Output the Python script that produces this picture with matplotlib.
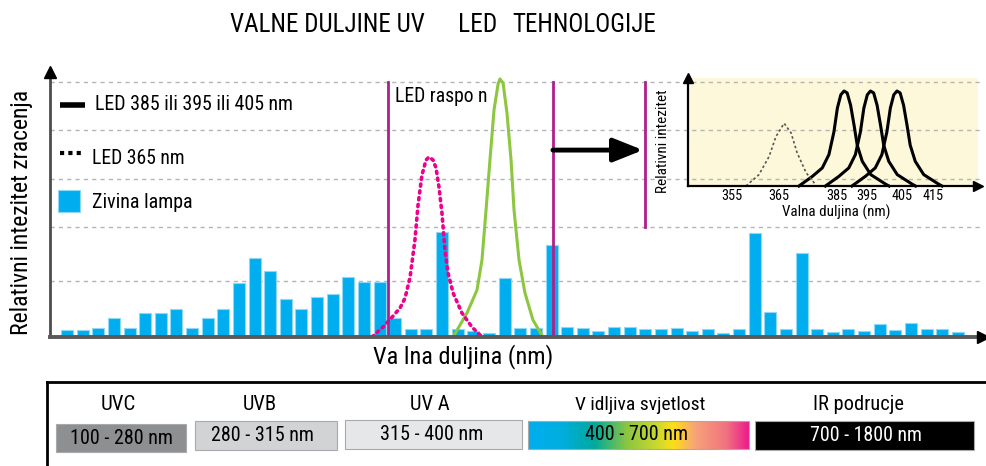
import matplotlib
matplotlib.use('Agg')
import matplotlib.pyplot as plt
import numpy as np
from matplotlib.colors import LinearSegmentedColormap
from matplotlib.patches import Rectangle
from matplotlib import font_manager as fm

# ---------------- font choice: prefer a condensed face ----------------
_entries = fm.fontManager.ttflist
_names = {f.name for f in _entries}
_family, _stretch = None, 'normal'
for cand in ['Liberation Sans Narrow', 'Roboto Condensed', 'Open Sans Condensed',
             'Noto Sans Condensed', 'DejaVu Sans Condensed', 'Arial Narrow']:
    if cand in _names:
        _family = cand
        break
if _family is None:
    for f in _entries:
        if str(f.stretch) in ('condensed', 'semi-condensed', 'extra-condensed', '500', '375', '400'):
            if f.name in ('DejaVu Sans', 'Noto Sans', 'Open Sans', 'Roboto', 'Liberation Sans'):
                _family, _stretch = f.name, f.stretch
                break
if _family is None:
    _family = 'Roboto' if 'Roboto' in _names else 'DejaVu Sans'
plt.rcParams['font.family'] = [_family, 'DejaVu Sans']
plt.rcParams['font.stretch'] = _stretch

# ---------------- data ----------------
title_parts = ['VALNE DULJINE UV', 'LED', 'TEHNOLOGIJE']
y_label = 'Relativni intezitet zracenja'
x_label = 'Va lna duljina (nm)'
legend_labels = ['LED 385 ili 395 ili 405 nm', 'LED 365 nm', 'Zivina lampa']
led_range_label = 'LED raspo n'

# mercury lamp spectrum bars (relative, top grid line = 100)
mercury = [2.7, 2.7, 3.5, 7.5, 3.5, 9.4, 9.4, 11.0, 3.5, 7.5, 11.0, 21.2, 31.0, 25.9,
           14.9, 11.0, 15.7, 16.9, 23.5, 21.6, 21.6,
           7.5, 3.1, 3.1, 41.2, 3.1, 2.4, 1.6, 23.1, 3.5, 3.5, 36.1, 3.9, 3.5, 2.4,
           3.9, 3.9,
           3.1, 3.1, 3.5, 2.4, 3.1, 1.6, 3.1, 40.8, 9.8, 3.1, 32.9, 3.1, 2.0, 3.1,
           2.4, 5.1, 2.7, 5.5, 3.1, 3.1, 2.0]
grid_levels = [22, 43, 62, 81, 100]

# LED 365 nm curve (pink dotted), x in bar-position units
led365_x = [19.51, 20.22, 20.86, 21.31, 21.63, 21.95, 22.26, 22.46, 22.71, 22.97, 23.16,
            23.42, 23.61, 23.80, 23.99, 24.18, 24.38, 24.70, 25.27, 25.91, 26.42, 26.68]
led365_y = [0, 3.9, 8.2, 11.4, 15.3, 23.5, 38.0, 51.8, 63.5, 69.4, 70.6,
            69.4, 66.3, 58.8, 48.6, 34.1, 25.1, 17.3, 9.4, 3.9, 0.8, 0]

# LED 385/395/405 curve (green)
led395_x = [24.70, 25.59, 26.23, 26.55, 26.81, 27.06, 27.32, 27.58, 27.70, 27.90, 28.15,
            28.41, 28.60, 28.92, 29.30, 29.81, 30.45]
led395_y = [0, 9.4, 18.4, 30.2, 49.8, 69.4, 89.0, 99.2, 101.2, 99.6, 87.8,
            69.4, 49.8, 30.2, 17.3, 6.7, 0]

led_range_bounds = [20.54, 31.09]     # magenta lines: LED range
zoom_marker_x = 36.98                 # magenta line next to the inset
zoom_marker_span = (43, 100)
arrow_from, arrow_to, arrow_level = 31.09, 36.85, 73.3

# inset: LED spectra (nm, relative)
inset_peaks = [385, 395, 405]
peak_offset = [-17.0, -12.0, -8.2, -5.7, -3.8, -2.5, -1.2, 0, 1.2, 2.5, 3.8, 5.0, 6.9,
               10.1, 15.7, 17.0]
peak_shape = [0, 0.10, 0.19, 0.33, 0.57, 0.82, 0.96, 1.0, 0.98, 0.85, 0.64, 0.43, 0.26,
              0.12, 0.02, 0]
inset365_x = [348.0, 352.9, 356.7, 359.3, 362.4, 365.0, 367.3, 370.7, 374.4]
inset365_y = [0, 0.12, 0.31, 0.52, 0.66, 0.56, 0.35, 0.14, 0.01]
inset_tick_pos = [342.7, 360.5, 382.4, 393.7, 406.9, 418.6]
inset_tick_labels = ['355', '365', '385', '395', '405', '415']
inset_ylabel = 'Relativni intezitet'
inset_xlabel = 'Valna duljina (nm)'

# spectrum band table
band_names = ['UVC', 'UVB', 'UV A', 'V idljiva svjetlost', 'IR podrucje']
band_ranges = ['100 - 280 nm', '280 - 315 nm', '315 - 400 nm', '400 - 700 nm', '700 - 1800 nm']
band_colors = ['#8E8F91', '#D1D3D4', '#E6E7E8', None, '#000000']
band_text_colors = ['black', 'black', 'black', 'black', 'white']
visible_stops = [(0.0, '#00AEEF'), (0.15, '#00AEDF'), (0.3, '#00A99D'), (0.45, '#8DC63F'),
                 (0.58, '#C8D92E'), (0.66, '#FFDE17'), (0.76, '#F7A27A'), (0.9, '#F0727F'),
                 (1.0, '#EC1C8C')]

# ---------------- figure ----------------
W, H = 986, 466
fig = plt.figure(figsize=(W / 100, H / 100), dpi=100)


def fr(x0, y0, x1, y1):
    return [x0 / W, 1 - y1 / H, (x1 - x0) / W, (y1 - y0) / H]


fit_list = []   # (text, target size in px, 'w' or 'h')

BAR_STEP = 15.63
ax = fig.add_axes(fr(50, 72, 983, 337))
ax.set_xlim((50 - 67) / BAR_STEP, (983 - 67) / BAR_STEP)
ax.set_ylim(0, (337 - 72) / 2.55)
ax.axis('off')

inset = fig.add_axes(fr(688, 78, 978, 186))
inset.patch.set_visible(False)

ax.add_patch(Rectangle((0, 0), 1, 1, transform=inset.transAxes, facecolor='#FDF8DA',
                       edgecolor='none', zorder=0.5, clip_on=False))

for g in grid_levels:
    ax.axhline(g, color='#B5B5B5', lw=1, ls=(0, (3, 3)), zorder=1)

idx = np.arange(len(mercury))
ax.bar(idx, mercury, width=12 / BAR_STEP, color='#00AEEF', edgecolor='#8FD8F5',
       linewidth=0.8, zorder=2)

ax.plot(led395_x, led395_y, color='#8DC63F', lw=2.2, zorder=3)
ax.plot(led365_x, led365_y, color='#EC008C', lw=2.6, ls=(0, (0.6, 1.3)),
        dash_capstyle='round', zorder=3)

for xv in led_range_bounds:
    ax.plot([xv, xv], [0, 100], color='#B01F8A', lw=2, zorder=4)
ax.plot([zoom_marker_x, zoom_marker_x], list(zoom_marker_span), color='#B01F8A', lw=2, zorder=4)

ax.annotate('', xy=(arrow_to, arrow_level), xytext=(arrow_from, arrow_level),
            arrowprops=dict(arrowstyle='-|>,head_length=1.0,head_width=0.4',
                            mutation_scale=18, lw=3.5, color='black',
                            shrinkA=0, shrinkB=0), zorder=5)

ax.plot([0, 0], [0, 1], transform=ax.transAxes, color='#4D4D4D', lw=2, clip_on=False, zorder=6)
ax.plot([0], [1], marker='^', ms=9, color='black', transform=ax.transAxes, clip_on=False, zorder=6)
ax.plot([0, 1], [0, 0], transform=ax.transAxes, color='#58595B', lw=2.8, clip_on=False, zorder=6)
ax.plot([1], [0], marker='>', ms=9, color='black', transform=ax.transAxes, clip_on=False, zorder=6)

# ---------------- inset ----------------
inset.set_xlim(326.1, 435.6)
inset.set_ylim(0, 108 / 95)
for p in inset_peaks:
    inset.plot(np.array(peak_offset) + p, peak_shape, color='black', lw=2.2, clip_on=False)
inset.plot(inset365_x, inset365_y, color='#555555', lw=1.2, ls=(0, (1.5, 1.5)))
for s in ['top', 'right']:
    inset.spines[s].set_visible(False)
inset.spines['left'].set_linewidth(1.6)
inset.spines['bottom'].set_linewidth(1.6)
inset.plot([0], [1], marker='^', ms=7, color='black', transform=inset.transAxes, clip_on=False)
inset.plot([1], [0], marker='>', ms=7, color='black', transform=inset.transAxes, clip_on=False)
inset.set_xticks(inset_tick_pos)
inset.set_xticklabels(inset_tick_labels, fontsize=11.5)
inset.tick_params(axis='x', length=0, pad=2)
inset.set_yticks([])

# ---------------- overlay (pixel coordinates) ----------------
ov = fig.add_axes([0, 0, 1, 1])
ov.patch.set_visible(False)
ov.axis('off')

fit_list.append((ov.text(395, 97, led_range_label, fontsize=15, ha='left', va='center'), 93, 'w'))

fit_list.append((ov.text(230, 25, title_parts[0], fontsize=16.5, ha='left', va='center'), 195, 'w'))
fit_list.append((ov.text(458, 25, title_parts[1], fontsize=16.5, ha='left', va='center'), 39, 'w'))
fit_list.append((ov.text(512, 25, title_parts[2], fontsize=16.5, ha='left', va='center'), 143, 'w'))

fit_list.append((ov.text(22, 212, y_label, fontsize=18, rotation=90, ha='center', va='center'), 245, 'h'))
fit_list.append((ov.text(463, 357, x_label, fontsize=18.5, ha='center', va='center'), 180, 'w'))

fit_list.append((ov.text(663, 141, inset_ylabel, fontsize=12, rotation=90, ha='center',
                         va='center'), 103, 'h'))
fit_list.append((ov.text(836, 212, inset_xlabel, fontsize=12, ha='center', va='center'), 108, 'w'))

# legend
ov.plot([60, 85], [105, 105], color='black', lw=4, solid_capstyle='butt')
fit_list.append((ov.text(95, 105, legend_labels[0], fontsize=15, ha='left', va='center'), 198, 'w'))
ov.plot([60, 82], [153, 153], color='black', lw=3, ls=(0, (1, 1)))
fit_list.append((ov.text(92, 158, legend_labels[1], fontsize=15, ha='left', va='center'), 93, 'w'))
ov.add_patch(Rectangle((58, 190), 22, 22, facecolor='#00AEEF', edgecolor='#8FD8F5', lw=0.8))
fit_list.append((ov.text(92, 203, legend_labels[2], fontsize=15, ha='left', va='center'), 101, 'w'))

# spectrum band table
ov.plot([47, 47], [382, 470], color='black', lw=2)
ov.plot([47, 990], [382, 382], color='black', lw=2)

band_boxes = [(56, 186, 424, 452), (195, 337, 421, 450), (345, 522, 420, 449),
              (528, 749, 421, 449), (755, 974, 421, 450)]
band_label_x = [118, 260, 430, 640, 858]
band_text_x = [121, 262, 432, 637, 866]
band_label_w = [35, 34, None, 130, 90]
band_text_w = [103, 103, 103, 103, 112]
cmap = LinearSegmentedColormap.from_list('vis', visible_stops)
name_texts = []
for i, (x0, x1, y0, y1) in enumerate(band_boxes):
    if band_colors[i] is None:
        ov.imshow(np.linspace(0, 1, 256)[None, :], extent=(x0, x1, y1, y0), cmap=cmap,
                  aspect='auto', zorder=1)
        ov.add_patch(Rectangle((x0, y0), x1 - x0, y1 - y0, facecolor='none',
                               edgecolor='#A7A9AC', lw=0.8, zorder=2))
    else:
        ov.add_patch(Rectangle((x0, y0), x1 - x0, y1 - y0, facecolor=band_colors[i],
                               edgecolor='#A7A9AC', lw=0.8, zorder=1))
    nt = ov.text(band_label_x[i], 405, band_names[i], fontsize=15.5, ha='center', va='center')
    name_texts.append(nt)
    if band_label_w[i] is not None:
        fit_list.append((nt, band_label_w[i], 'w'))
    fit_list.append((ov.text(band_text_x[i], (y0 + y1) / 2, band_ranges[i], fontsize=15,
                             ha='center', va='center', color=band_text_colors[i], zorder=3),
                     band_text_w[i], 'w'))

ov.set_xlim(0, W)
ov.set_ylim(H, 0)

# scale font sizes so that the text extents match the reference
renderer = fig.canvas.get_renderer()
for txt, target, dim in fit_list:
    bb = txt.get_window_extent(renderer)
    cur = bb.width if dim == 'w' else bb.height
    if cur > 0:
        txt.set_fontsize(txt.get_fontsize() * target / cur)
# "UV A" label: same size as its neighbours
name_texts[2].set_fontsize((name_texts[0].get_fontsize() + name_texts[1].get_fontsize()) / 2)

# inset tick labels width match ("355" ~21 px)
fig.canvas.draw()
lab = inset.get_xticklabels()[0]
cur = lab.get_window_extent(renderer).width
if cur > 0:
    inset.tick_params(axis='x', labelsize=11.5 * 21 / cur)

fig.savefig('out.png', dpi=100)
